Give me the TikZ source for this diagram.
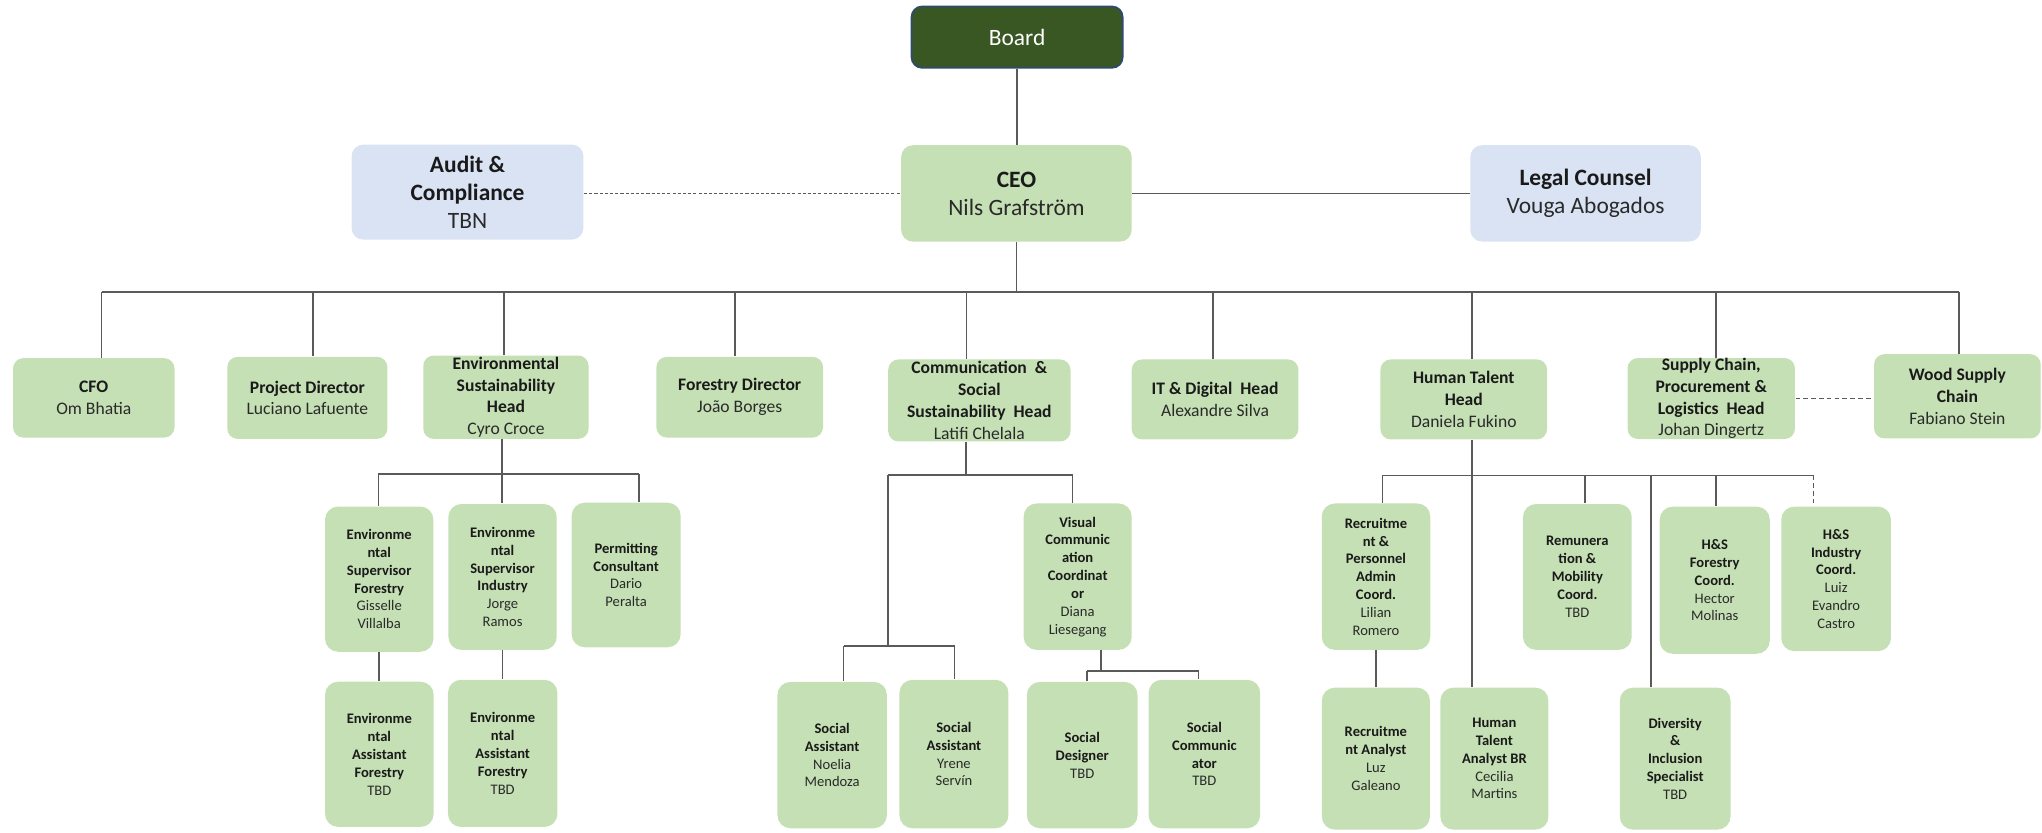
\documentclass[tikz,border=0pt]{standalone}
\usepackage{fontspec}
\setmainfont{Carlito}
\definecolor{grn}{HTML}{C5E0B4}
\definecolor{blu}{HTML}{DAE3F3}
\definecolor{brdfill}{HTML}{385723}
\definecolor{brdline}{HTML}{2F4B6B}
\definecolor{ln}{HTML}{5A5A5A}
\definecolor{tx}{HTML}{1A1A1A}
\definecolor{nm}{HTML}{2A2A2A}
\newcommand\hb[1]{{\bfseries #1}}
\newcommand\nmx[1]{{\color{nm}#1}}
\begin{document}
\begin{tikzpicture}[x=0.5pt,y=-0.5pt,
  sz/.style 2 args={minimum width={(#1)*0.5pt}, minimum height={(#2)*0.5pt}},
  box/.style={inner sep=0pt, align=center, text=tx},
  topbox/.style={box, rounded corners=4.5pt, font=\fontsize{9}{10.75}\selectfont},
  lone/.style={box, fill=grn, rounded corners=4pt, font=\fontsize{6.75}{8.4}\selectfont},
  ltwo/.style={box, fill=grn, rounded corners=5pt, font=\fontsize{5.6}{6.85}\selectfont},
  conn/.style={draw=ln, line width=0.6pt},
  dotline/.style={conn, dash pattern=on 1.2pt off 0.8pt},
  dashline/.style={conn, dash pattern=on 1.8pt off 1.2pt}]
\useasboundingbox (0,0) rectangle (1568,639);

% top level
\node[topbox, sz={162}{47}, fill=brdfill, draw=brdline, line width=0.7pt, text=white, rounded corners=4pt] (board) at (781,28.5) {Board};
\node[topbox, sz={177}{74}, fill=grn] (ceo) at (780.5,148.5) {\hb{CEO}\\\nmx{Nils Grafström}};
\node[topbox, sz={178}{73}, fill=blu] (audit) at (359,147.5) {\hb{Audit \&}\\\hb{Compliance}\\\nmx{TBN}};
\node[topbox, sz={177}{74}, fill=blu] (legal) at (1217.5,148.5) {\hb{Legal Counsel}\\\nmx{Vouga Abogados}};

% level 1
\node[lone, sz={124}{61}] (cfo) at (72,305.5) {\hb{CFO}\\\nmx{Om Bhatia}};
\node[lone, sz={123}{63}] (proj) at (236,305.5) {\hb{Project Director}\\\nmx{Luciano Lafuente}};
\node[lone, sz={127}{64}] (env) at (388.5,305) {\hb{Environmental}\\\hb{Sustainability}\\\hb{Head}\\\nmx{Cyro Croce}};
\node[lone, sz={128}{62}] (forestry) at (568,305) {\hb{Forestry Director}\\\nmx{João Borges}};
\node[lone, sz={140}{63}] (comm) at (752,307.5) {\hb{Communication\ \ \&}\\\hb{Social}\\\hb{Sustainability\ \ Head}\\\nmx{Latifi Chelala}};
\node[lone, sz={128}{61.5}] (it) at (933,306.7) {\hb{IT \& Digital\ \ Head}\\\nmx{Alexandre Silva}};
\node[lone, sz={128}{61.5}] (ht) at (1124,306.7) {\hb{Human Talent}\\\hb{Head}\\\nmx{Daniela Fukino}};
\node[lone, sz={128.6}{61.4}] (supply) at (1314,306) {\hb{Supply Chain,}\\\hb{Procurement \&}\\\hb{Logistics\ \ Head}\\\nmx{Johan Dingertz}};
\node[lone, sz={128}{64.7}] (wood) at (1503,304.3) {\hb{Wood Supply}\\\hb{Chain}\\\nmx{Fabiano Stein}};

% environmental branch
\node[ltwo, sz={83.2}{111.5}] (esf) at (291.2,444.7) {\hb{Environme}\\\hb{ntal}\\\hb{Supervisor}\\\hb{Forestry}\\\nmx{Gisselle}\\\nmx{Villalba}};
\node[ltwo, sz={83.2}{112}] (esi) at (385.9,443) {\hb{Environme}\\\hb{ntal}\\\hb{Supervisor}\\\hb{Industry}\\\nmx{Jorge}\\\nmx{Ramos}};
\node[ltwo, sz={83.7}{111}] (perm) at (480.8,441.5) {\hb{Permitting}\\\hb{Consultant}\\\nmx{Dario}\\\nmx{Peralta}};
\node[ltwo, sz={83.4}{111.5}] (eafa) at (291.3,579.2) {\hb{Environme}\\\hb{ntal}\\\hb{Assistant}\\\hb{Forestry}\\\nmx{TBD}};
\node[ltwo, sz={84}{113}] (eafb) at (386,578.5) {\hb{Environme}\\\hb{ntal}\\\hb{Assistant}\\\hb{Forestry}\\\nmx{TBD}};

% communication branch
\node[ltwo, sz={83}{112.4}] (visual) at (827.5,442.8) {\hb{Visual}\\\hb{Communic}\\\hb{ation}\\\hb{Coordinat}\\\hb{or}\\\nmx{Diana}\\\nmx{Liesegang}};
\node[ltwo, sz={84}{112.4}] (saa) at (639,579.8) {\hb{Social}\\\hb{Assistant}\\\nmx{Noelia}\\\nmx{Mendoza}};
\node[ltwo, sz={83.7}{114}] (sab) at (732.5,579) {\hb{Social}\\\hb{Assistant}\\\nmx{Yrene}\\\nmx{Servín}};
\node[ltwo, sz={85}{112.4}] (sdes) at (831,579.8) {\hb{Social}\\\hb{Designer}\\\nmx{TBD}};
\node[ltwo, sz={85.7}{114}] (scom) at (924.8,579) {\hb{Social}\\\hb{Communic}\\\hb{ator}\\\nmx{TBD}};

% human talent branch
\node[ltwo, sz={83.3}{112.4}] (rec) at (1056.6,442.8) {\hb{Recruitme}\\\hb{nt \&}\\\hb{Personnel}\\\hb{Admin}\\\hb{Coord.}\\\nmx{Lilian}\\\nmx{Romero}};
\node[ltwo, sz={83.5}{112}] (rem) at (1211.2,443) {\hb{Remunera}\\\hb{tion \&}\\\hb{Mobility}\\\hb{Coord.}\\\nmx{TBD}};
\node[ltwo, sz={84.5}{113}] (hsf) at (1316.7,445.5) {\hb{H\&S}\\\hb{Forestry}\\\hb{Coord.}\\\nmx{Hector}\\\nmx{Molinas}};
\node[ltwo, sz={84.2}{111}] (hsi) at (1409.9,444.5) {\hb{H\&S}\\\hb{Industry}\\\hb{Coord.}\\\nmx{Luiz}\\\nmx{Evandro}\\\nmx{Castro}};
\node[ltwo, sz={83}{109}] (ra) at (1056.5,582.5) {\hb{Recruitme}\\\hb{nt Analyst}\\\nmx{Luz}\\\nmx{Galeano}};
\node[ltwo, sz={83}{109}] (hta) at (1147.5,582.5) {\hb{Human}\\\hb{Talent}\\\hb{Analyst BR}\\\nmx{Cecilia}\\\nmx{Martins}};
\node[ltwo, sz={85}{109}] (div) at (1286.3,582.5) {\hb{Diversity}\\\hb{\&}\\\hb{Inclusion}\\\hb{Specialist}\\\nmx{TBD}};

% ---------- connectors ----------
\draw[conn] (board.south) -- (board.south |- ceo.north);
\draw[dotline] (audit.east |- ceo.west) -- (ceo.west);
\draw[conn] (ceo.east) -- (legal.west |- ceo.east);

% main bus
\coordinate (pcfo) at (78,224);
\coordinate (pproj) at (240.5,224);
\coordinate (penv) at (387.2,224);
\coordinate (pfor) at (564.5,224);
\coordinate (pcomm) at (742,224);
\coordinate (pit) at (931.3,224);
\coordinate (pht) at (1130.3,224);
\coordinate (psup) at (1317.8,224);
\coordinate (pwood) at (1504.3,224);
\draw[conn] (ceo.south) -- (ceo.south |- pcfo);
\draw[conn] (pcfo) -- (pwood);
\foreach \p/\n in {pcfo/cfo,pproj/proj,penv/env,pfor/forestry,pcomm/comm,pit/it,pht/ht,psup/supply,pwood/wood}
  \draw[conn] (\p) -- (\p |- \n.north);
\draw[dashline] (supply.east) -- (wood.west |- supply.east);

% environmental sub-bus
\coordinate (eb) at (385.5,364);
\coordinate (ebl) at (290.6,364);
\coordinate (ebr) at (490.7,364);
\draw[conn] (env.south -| eb) -- (eb);
\draw[conn] (ebl) -- (ebr);
\draw[conn] (ebl) -- (ebl |- esf.north);
\draw[conn] (eb) -- (eb |- esi.north);
\draw[conn] (ebr) -- (ebr |- perm.north);
\draw[conn] (esf.south) -- (esf.south |- eafa.north);
\draw[conn] (esi.south) -- (esi.south |- eafb.north);

% communication sub-bus
\coordinate (cb) at (741.8,364.8);
\coordinate (cbl) at (681.8,364.8);
\coordinate (cbr) at (823.6,364.8);
\draw[conn] (comm.south -| cb) -- (cb);
\draw[conn] (cbl) -- (cbr);
\draw[conn] (cbr) -- (cbr |- visual.north);
\coordinate (sbm) at (681.8,496);
\coordinate (sbl) at (647.7,496);
\coordinate (sbr) at (733,496);
\draw[conn] (cbl) -- (sbm);
\draw[conn] (sbl) -- (sbr);
\draw[conn] (sbl) -- (sbl |- saa.north);
\draw[conn] (sbr) -- (sbr |- sab.north);
\coordinate (vbm) at (845.3,515.4);
\coordinate (vbl) at (834.6,515.4);
\coordinate (vbr) at (920.4,515.4);
\draw[conn] (visual.south -| vbm) -- (vbm);
\draw[conn] (vbl) -- (vbr);
\draw[conn] (vbl) -- (vbl |- sdes.north);
\draw[conn] (vbr) -- (vbr |- scom.north);

% human talent sub-bus
\coordinate (hbm) at (1130.3,365);
\coordinate (hbl) at (1061.7,365);
\coordinate (hrem) at (1217.2,365);
\coordinate (hdiv) at (1267.8,365);
\coordinate (hhsf) at (1317.8,365);
\coordinate (hbr) at (1392.5,365);
\draw[conn] (ht.south -| hbm) -- (hbm |- hta.north);
\draw[conn] (hbl) -- (hbr);
\draw[conn] (hbl) -- (hbl |- rec.north);
\draw[conn] (hrem) -- (hrem |- rem.north);
\draw[conn] (hdiv) -- (hdiv |- div.north);
\draw[conn] (hhsf) -- (hhsf |- hsf.north);
\draw[dashline] (hbr) -- (hbr |- hsi.north);
\draw[conn] (rec.south) -- (rec.south |- ra.north);
\end{tikzpicture}
\end{document}
